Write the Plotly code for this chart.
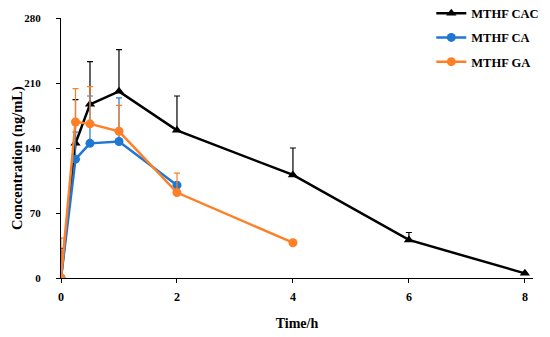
import plotly.graph_objects as go

time_cac = [0, 0.25, 0.5, 1, 2, 4, 6, 8]
conc_cac = [0, 145, 187, 201, 159, 111, 41, 5]
err_cac = [32, 47, 46, 45, 37, 29, 8, 0]

time_ca = [0, 0.25, 0.5, 1, 2]
conc_ca = [0, 128, 145, 147, 100]
err_ca = [0, 29, 51, 47, 0]

time_ga = [0, 0.25, 0.5, 1, 2, 4]
conc_ga = [0, 168, 166, 158, 92, 38]
err_ga = [43, 36, 40, 28, 21, 0]

x_ticks = [0, 2, 4, 6, 8]
y_ticks = [0, 70, 140, 210, 280]

FONT = "Liberation Serif"

def trace(x, y, e, name, color, symbol, group):
    return go.Scatter(
        x=x, y=y, name=name, mode="lines+markers", legendgroup=group,
        line=dict(color=color, width=2.5),
        marker=dict(symbol=symbol, size=9, color=color),
        error_y=dict(type="data", array=e, arrayminus=[0] * len(e), symmetric=False,
                     color=color, thickness=1.2, width=3),
    )

fig = go.Figure()
fig.add_trace(trace(time_cac, conc_cac, err_cac, "MTHF CAC", "#000000", "triangle-up", "a"))
fig.add_trace(trace(time_ca, conc_ca, err_ca, "MTHF CA", "#1f77d4", "circle", "b"))
fig.add_trace(trace(time_ga, conc_ga, err_ga, "MTHF GA", "#ff7f27", "circle", "c"))

fig.add_annotation(text="Concentration (ng/mL)", textangle=-90, xref="paper", yref="paper",
                   x=-0.0932, y=0.4615, xanchor="center", yanchor="middle", showarrow=False,
                   font=dict(family=FONT, size=14.5, color="black", weight="bold"))

fig.update_layout(
    width=542, height=329,
    margin=dict(l=53, r=17, t=10, b=59, autoexpand=False),
    paper_bgcolor="white", plot_bgcolor="white",
    font=dict(family=FONT, size=12, color="black"),
    showlegend=True,
    legend=dict(xref="container", x=0.781, y=1.075, xanchor="left", yanchor="top",
                font=dict(family=FONT, size=12.5, color="black", weight="bold"),
                bgcolor="rgba(0,0,0,0)", tracegroupgap=5, traceorder="grouped",
                itemwidth=30),
    xaxis=dict(range=[0, 8.14], tickvals=x_ticks,
               showline=True, linecolor="black", linewidth=1, showgrid=False, zeroline=False,
               ticks="outside", ticklen=4, tickcolor="black",
               tickfont=dict(size=12, weight="bold"),
               ticklabelstandoff=4,
               title=dict(text="Time/h", font=dict(family=FONT, size=14, weight="bold"), standoff=14)),
    yaxis=dict(range=[0, 280], tickvals=y_ticks,
               showline=True, linecolor="black", linewidth=1, showgrid=False, zeroline=False,
               ticks="outside", ticklen=4, tickcolor="black",
               tickfont=dict(size=11, weight="bold"),
               ticklabelstandoff=13),
)

fig.write_html("out.html")
